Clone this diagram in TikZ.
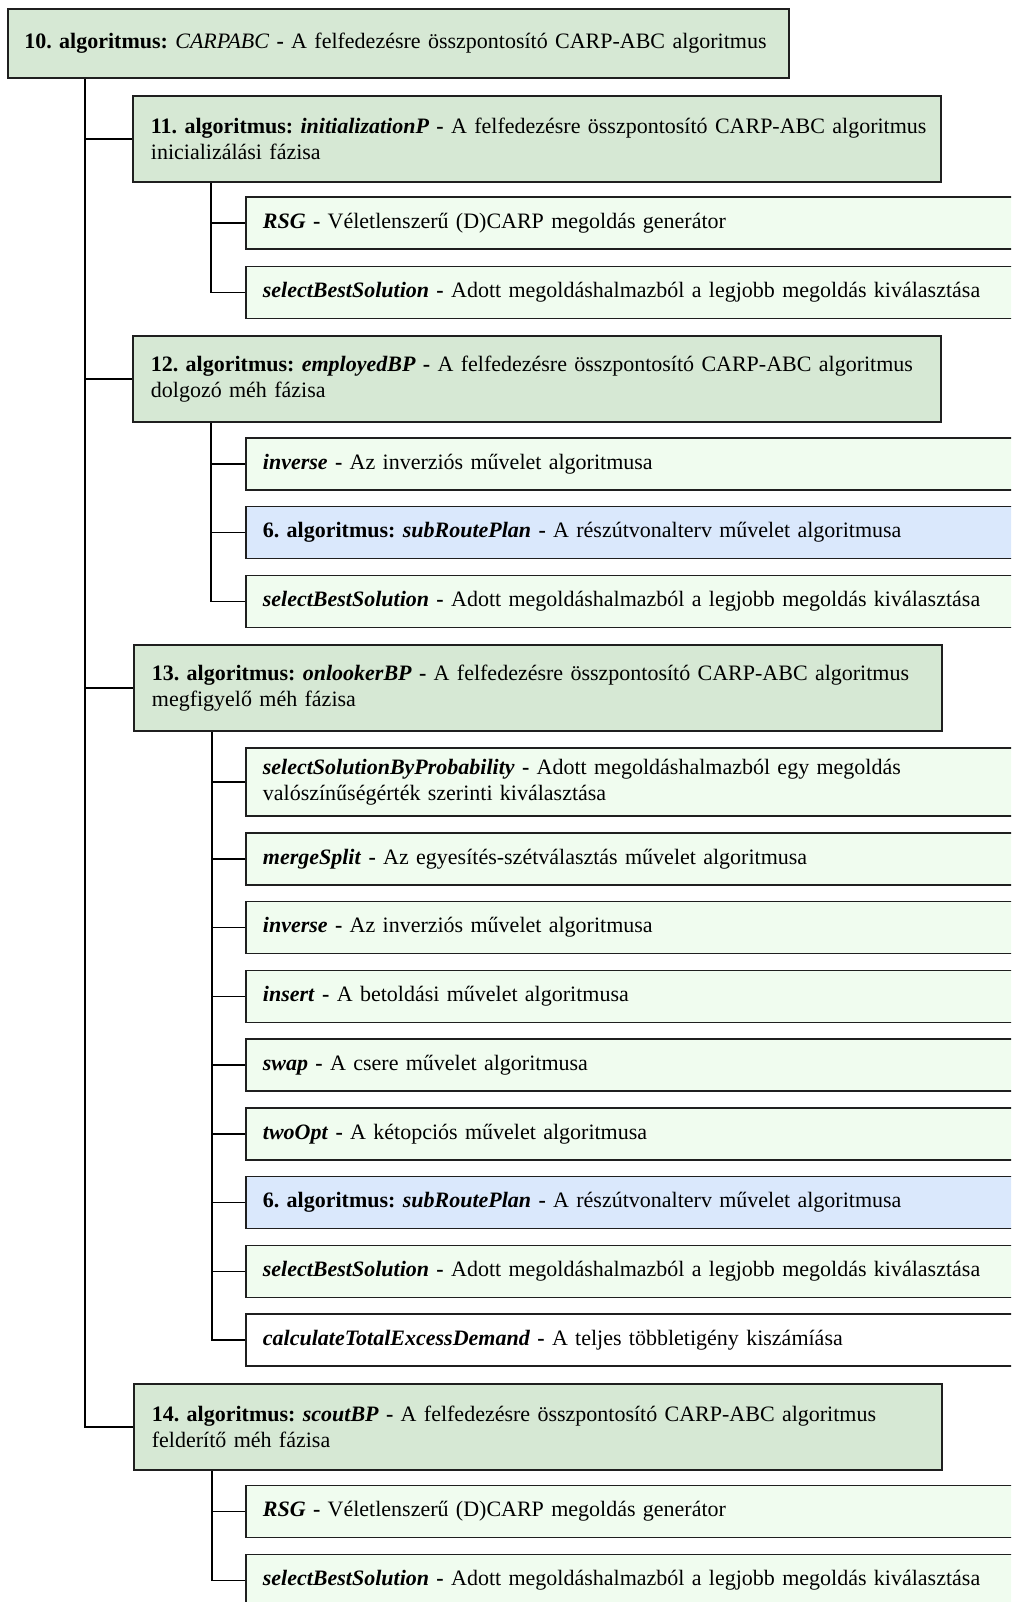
\documentclass[tikz,border=0pt]{standalone}
\usepackage{fontspec}
\setmainfont{Liberation Serif}
\begin{document}
\begin{tikzpicture}[x=1pt,y=-1pt,
  every node/.style={font=\fontsize{22}{25.5}\selectfont\frenchspacing},
  box/.style={draw=black!88,line width=1.8pt,rectangle,align=left,inner ysep=0pt},
  mainbox/.style={box,fill=mainfill,anchor=north west,text width=772pt,inner xsep=18pt,minimum height=86pt},
  topbox/.style={box,fill=mainfill,anchor=north west,text width=748pt,inner xsep=16.5pt,minimum height=69pt},
  leafbox/.style={box,fill=leaffill,anchor=west,text width=820pt,inner xsep=17pt,minimum height=52pt},
  tallleaf/.style={leafbox,minimum height=68pt},
  subbox/.style={leafbox,fill=subfill},
  plainbox/.style={leafbox,fill=white},
  link/.style={draw=black,line width=1.8pt}]
\definecolor{mainfill}{HTML}{D6E8D4}
\definecolor{leaffill}{HTML}{F0FCEF}
\definecolor{subfill}{HTML}{DAE8FC}
\useasboundingbox (0,0) rectangle (1011,1602);
\clip (0,0) rectangle (1011,1602);
\fill[white] (0,0) rectangle (1011,1602);

% top level
\node[topbox] (b10) at (7,8) {\textbf{10. algoritmus:} \textit{CARPABC} \textbf{-} A felfedezésre összpontosító CARP-ABC algoritmus};

% phase 11
\node[mainbox] (b11) at (132,95) {\mbox{\textbf{11. algoritmus: \textit{initializationP} -} A felfedezésre összpontosító CARP-ABC algoritmus}\\inicializálási fázisa};
\node[leafbox] (c11a) at (245,223) {\textbf{\textit{RSG} -} Véletlenszerű (D)CARP megoldás generátor};
\node[leafbox] (c11b) at (245,292.5) {\textbf{\textit{selectBestSolution} -} Adott megoldáshalmazból a legjobb megoldás kiválasztása};

% phase 12
\node[mainbox] (b12) at (132,335) {\mbox{\textbf{12. algoritmus: \textit{employedBP} -} A felfedezésre összpontosító CARP-ABC algoritmus}\\dolgozó méh fázisa};
\node[leafbox] (c12a) at (245,464) {\textbf{\textit{inverse} -} Az inverziós művelet algoritmusa};
\node[subbox] (c12b) at (245,532.5) {\textbf{6. algoritmus: \textit{subRoutePlan} -} A részútvonalterv művelet algoritmusa};
\node[leafbox] (c12c) at (245,601.5) {\textbf{\textit{selectBestSolution} -} Adott megoldáshalmazból a legjobb megoldás kiválasztása};

% phase 13
\node[mainbox] (b13) at (133,644) {\mbox{\textbf{13. algoritmus: \textit{onlookerBP} -} A felfedezésre összpontosító CARP-ABC algoritmus}\\megfigyelő méh fázisa};
\node[tallleaf] (c13a) at (245,782) {\textbf{\textit{selectSolutionByProbability} -} Adott megoldáshalmazból egy megoldás\\valószínűségérték szerinti kiválasztása};
\node[leafbox] (c13b) at (245,859) {\textbf{\textit{mergeSplit} -} Az egyesítés-szétválasztás művelet algoritmusa};
\node[leafbox] (c13c) at (245,927.5) {\textbf{\textit{inverse} -} Az inverziós művelet algoritmusa};
\node[leafbox] (c13d) at (245,996.5) {\textbf{\textit{insert} -} A betoldási művelet algoritmusa};
\node[leafbox] (c13e) at (245,1065) {\textbf{\textit{swap} -} A csere művelet algoritmusa};
\node[leafbox] (c13f) at (245,1134) {\textbf{\textit{twoOpt} -} A kétopciós művelet algoritmusa};
\node[subbox] (c13g) at (245,1202.5) {\textbf{6. algoritmus: \textit{subRoutePlan} -} A részútvonalterv művelet algoritmusa};
\node[leafbox] (c13h) at (245,1271.5) {\textbf{\textit{selectBestSolution} -} Adott megoldáshalmazból a legjobb megoldás kiválasztása};
\node[plainbox] (c13i) at (245,1340) {\textbf{\textit{calculateTotalExcessDemand} -} A teljes többletigény kiszámíása};

% phase 14
\node[mainbox] (b14) at (133,1383) {\mbox{\textbf{14. algoritmus: \textit{scoutBP} -} A felfedezésre összpontosító CARP-ABC algoritmus}\\felderítő méh fázisa};
\node[leafbox] (c14a) at (245,1511.5) {\textbf{\textit{RSG} -} Véletlenszerű (D)CARP megoldás generátor};
\node[leafbox] (c14b) at (245,1580.5) {\textbf{\textit{selectBestSolution} -} Adott megoldáshalmazból a legjobb megoldás kiválasztása};

% trunk lines
\coordinate (t10) at ([xshift=78pt]b10.south west);
\coordinate (t11) at ([xshift=79pt]b11.south west);
\coordinate (t12) at ([xshift=79pt]b12.south west);
\coordinate (t13) at ([xshift=79pt]b13.south west);
\coordinate (t14) at ([xshift=79pt]b14.south west);

\draw[link] (t10) |- (b14.west);
\foreach \n in {b11,b12,b13} \draw[link] (t10 |- \n.west) -- (\n.west);

\draw[link] (t11) |- (c11b.west);
\draw[link] (t11 |- c11a.west) -- (c11a.west);

\draw[link] (t12) |- (c12c.west);
\foreach \n in {c12a,c12b} \draw[link] (t12 |- \n.west) -- (\n.west);

\draw[link] (t13) |- (c13i.west);
\foreach \n in {c13a,c13b,c13c,c13d,c13e,c13f,c13g,c13h} \draw[link] (t13 |- \n.west) -- (\n.west);

\draw[link] (t14) |- (c14b.west);
\draw[link] (t14 |- c14a.west) -- (c14a.west);
\end{tikzpicture}
\end{document}
